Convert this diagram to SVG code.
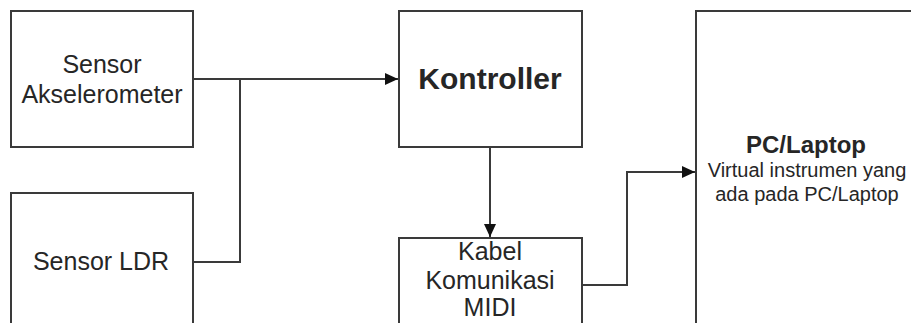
<svg xmlns="http://www.w3.org/2000/svg" width="911" height="323" viewBox="0 0 911 323">
<defs>
<style>
.box{fill:#ffffff;stroke:#3a3a3a;stroke-width:2}
.t{font-family:"Liberation Sans",Arial,sans-serif;fill:#262626;text-anchor:middle}
.n{font-size:25px}
.b{font-weight:bold}
.s{font-size:20px}
.c{fill:none;stroke:#3a3a3a;stroke-width:2}
</style>
<marker id="ah" markerWidth="13" markerHeight="12" refX="13" refY="6" orient="auto" markerUnits="userSpaceOnUse">
<path d="M0,0 L13,6 L0,12 Z" fill="#111"/>
</marker>
</defs>
<rect width="911" height="323" fill="#ffffff"/>
<g id="sensor-akselerometer">
<rect class="box" x="11" y="11" width="182" height="136"/>
<text class="t n" x="102" y="73">Sensor</text>
<text class="t n" x="102" y="103">Akselerometer</text>
</g>
<g id="sensor-ldr">
<rect class="box" x="11" y="193" width="182" height="150"/>
<text class="t n" x="101" y="270">Sensor LDR</text>
</g>
<g id="kontroller">
<rect class="box" x="399" y="11" width="183" height="136"/>
<text class="t b" x="490" y="89" font-size="30">Kontroller</text>
</g>
<g id="kabel">
<rect class="box" x="399" y="238" width="183" height="100"/>
<text class="t n" x="490" y="260">Kabel</text>
<text class="t n" x="490" y="289">Komunikasi</text>
<text class="t n" x="490" y="316">MIDI</text>
</g>
<g id="pc-laptop">
<rect class="box" x="696" y="11" width="230" height="330"/>
<text class="t b" x="806" y="153" font-size="24">PC/Laptop</text>
<text class="t s" x="807" y="177">Virtual instrumen yang</text>
<text class="t s" x="807" y="201">ada pada PC/Laptop</text>
</g>
<g id="connectors">
<path class="c" d="M193,79 H398" marker-end="url(#ah)"/>
<path class="c" d="M193,262 H240 V79"/>
<path class="c" d="M490,147 V237" marker-end="url(#ah)"/>
<path class="c" d="M582,285 H627 V172 H695" marker-end="url(#ah)"/>
</g>
</svg>
